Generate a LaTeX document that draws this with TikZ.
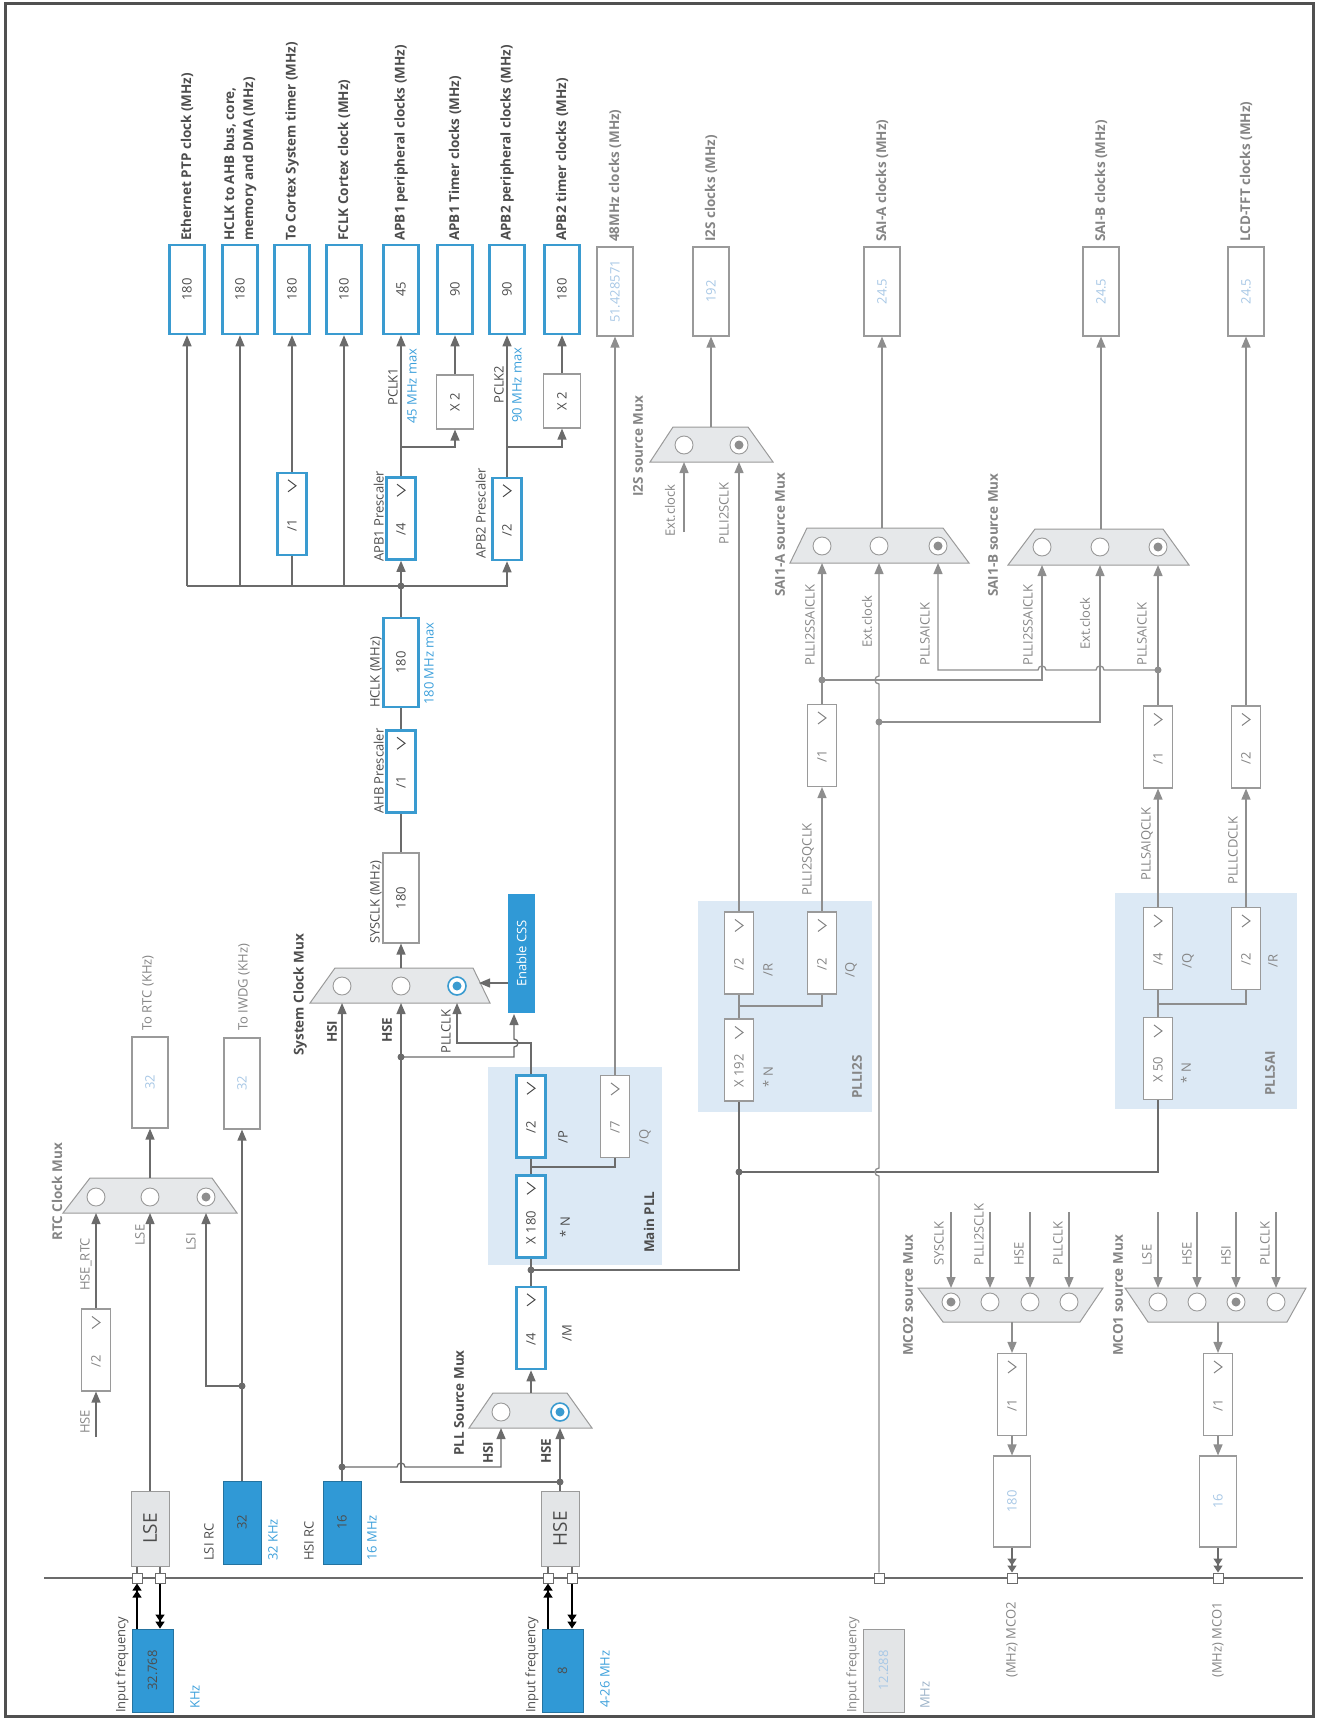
\documentclass[tikz,border=0pt]{standalone}
\usepackage{graphicx}
\usepackage{fontspec}
\setmainfont{Open Sans}
\usetikzlibrary{arrows.meta,calc}
\definecolor{lnc}{HTML}{6B6B6B}
\definecolor{lnl}{HTML}{8E8E8E}
\definecolor{stblue}{HTML}{3A9BD0}
\definecolor{fblue}{HTML}{3099D6}
\definecolor{pllbg}{HTML}{DCE9F5}
\definecolor{muxf}{HTML}{E6E8EA}
\definecolor{boxg}{HTML}{9A9A9A}
\definecolor{txt}{HTML}{4D4D4D}
\definecolor{txtg}{HTML}{858585}
\definecolor{txtlb}{HTML}{A8C8E6}
\definecolor{btxt}{HTML}{3DA0DB}
\definecolor{frm}{HTML}{505050}
\definecolor{crysf}{HTML}{E3E5E7}
\newcommand\myfs{\fontsize{13}{15}\selectfont}
\newcommand\myfsb{\fontsize{13.5}{16}\selectfont\bfseries}
\newcommand\dvd[6]{%
 \node[div#1] (#2) at (#3,#4) {};
 \node[font=\myfs, text=#6, rotate=90, inner sep=0pt] at ($(#2.center)+(0,11)$) {#5};
 \draw[#6, line width=1pt] ($(#2.north)+(-4,8)$) -- ($(#2.north)+(4,14)$) -- ($(#2.north)+(-4,20)$);
}
\begin{document}
\begin{tikzpicture}[x=1pt,y=-1pt,
 lbl/.style={font=\myfs, text=txt, inner sep=0pt, rotate=90},
 lblg/.style={lbl, text=txtg},
 lblb/.style={lbl, text=btxt},
 hdr/.style={font=\myfsb, text=txt, inner sep=0pt, rotate=90, anchor=west},
 hdrg/.style={hdr, text=txtg},
 outact/.style={draw=stblue, line width=2.5pt, fill=white, inner sep=0pt, minimum width=35pt, minimum height=89pt, font=\myfs, text=txt},
 outin/.style={draw=boxg, line width=1.1pt, fill=white, inner sep=0pt, minimum width=36pt, minimum height=89pt, font=\myfs, text=txtlb},
 divact/.style={draw=stblue, line width=2.5pt, fill=white, minimum width=29pt, minimum height=82pt, inner sep=0pt},
 divin/.style={draw=boxg, line width=1.1pt, fill=white, minimum width=29pt, minimum height=82pt, inner sep=0pt},
 x2box/.style={draw=boxg, line width=1.1pt, fill=white, minimum width=37pt, minimum height=54pt, inner sep=0pt, font=\myfs, text=txt},
 wire/.style={draw=lnc, line width=1.3pt},
 wireL/.style={draw=lnl, line width=1.3pt},
 wirear/.style={wire, -{Triangle[length=11pt,width=9pt]}},
 wirearL/.style={wireL, -{Triangle[length=11pt,width=9pt]}},
 dblar/.style={draw=black, line width=1.3pt, -{Triangle[length=7pt,width=9pt] Triangle[length=7pt,width=9pt]}},
 dblarL/.style={draw=lnc, line width=1.3pt, -{Triangle[length=7pt,width=9pt] Triangle[length=7pt,width=9pt]}},
 muxs/.style={fill=muxf, draw=boxg, line width=1pt},
 mcirc/.style={circle, draw=boxg, line width=0.9pt, fill=white, minimum size=18pt, inner sep=0pt},
 mcircb/.style={mcirc, draw=stblue, line width=1.6pt},
 term/.style={draw=lnc, fill=white, line width=1pt, minimum size=10pt, inner sep=0pt},
 rcbox/.style={fill=fblue, draw=fblue!75!black, line width=0.8pt, inner sep=0pt, minimum width=38pt, minimum height=83pt, font=\myfs, text=txt},
 crys/.style={fill=crysf, draw=boxg, line width=1pt, minimum width=38pt, minimum height=75pt, inner sep=0pt, font=\fontsize{19}{21}\selectfont, text=txt}
]
\useasboundingbox (0,0) rectangle (1319,1720);
\draw[frm, line width=3pt] (5,4) rectangle (1313,1716);

% PLL backgrounds
\fill[pllbg] (488,1067) rectangle (662,1265);
\fill[pllbg] (698,901) rectangle (872,1112);
\fill[pllbg] (1115,893) rectangle (1297,1109);

% ---------- top output boxes
\node[outact] (eth) at (187,289.5) {\rotatebox{90}{180}};
\node[outact] (hclkout) at (240,289.5) {\rotatebox{90}{180}};
\node[outact] (cortex) at (292,289.5) {\rotatebox{90}{180}};
\node[outact] (fclk) at (344,289.5) {\rotatebox{90}{180}};
\node[outact] (apbop) at (401,289.5) {\rotatebox{90}{45}};
\node[outact] (apbot) at (455,289.5) {\rotatebox{90}{90}};
\node[outact] (apbtp) at (507,289.5) {\rotatebox{90}{90}};
\node[outact] (apbtt) at (562,289.5) {\rotatebox{90}{180}};
\node[outin] (usb) at (615,291.5) {\rotatebox{90}{51.428571}};
\node[outin] (i2sout) at (711,291.5) {\rotatebox{90}{192}};
\node[outin] (saiaout) at (882,291.5) {\rotatebox{90}{24.5}};
\node[outin] (saibout) at (1101,291.5) {\rotatebox{90}{24.5}};
\node[outin] (lcdout) at (1246,291.5) {\rotatebox{90}{24.5}};

\node[hdr] at (187,241) {Ethernet PTP clock (MHz)};
\node[hdr, align=left, font={\fontsize{13.5}{19}\selectfont\bfseries}] at (240,241) {HCLK to AHB bus, core,\\memory and DMA (MHz)};
\node[hdr] at (292,241) {To Cortex System timer (MHz)};
\node[hdr] at (344,241) {FCLK Cortex clock (MHz)};
\node[hdr] at (401,241) {APB1 peripheral clocks (MHz)};
\node[hdr] at (455,241) {APB1 Timer clocks (MHz)};
\node[hdr] at (507,241) {APB2 peripheral clocks (MHz)};
\node[hdr] at (562,241) {APB2 timer clocks (MHz)};
\node[hdrg] at (615,242) {48MHz clocks (MHz)};
\node[hdrg] at (711,242) {I2S clocks (MHz)};
\node[hdrg] at (882,242) {SAI-A clocks (MHz)};
\node[hdrg] at (1101,242) {SAI-B clocks (MHz)};
\node[hdrg] at (1246,242) {LCD-TFT clocks (MHz)};

% ---------- AHB / APB
\dvd{act}{cortexdiv}{292}{514}{/1}{txt}
\dvd{act}{apb1pre}{401}{518.5}{/4}{txt}
\dvd{act}{apb2pre}{507}{519}{/2}{txt}
\dvd{act}{ahbpre}{401}{771.5}{/1}{txt}
\node[x2box] (x2a) at (455,402) {\rotatebox{90}{X 2}};
\node[x2box] (x2b) at (562,401) {\rotatebox{90}{X 2}};
\node[outact] (hclkbox) at (401,662.5) {\rotatebox{90}{180}};
\node[outact, draw=boxg, line width=1.1pt, minimum width=36pt, minimum height=90pt] (sysclk) at (401,898) {\rotatebox{90}{180}};

\coordinate (busL) at (187,586);
\draw[wirear] (eth |- busL) -- (apb2pre |- busL) -- (apb2pre.south);
\draw[wirear] (eth |- busL) -- (eth.south);
\draw[wirear] (hclkout |- busL) -- (hclkout.south);
\draw[wire] (cortex |- busL) -- (cortexdiv.south);
\draw[wirear] (cortexdiv.north) -- (cortex.south);
\draw[wirear] (fclk |- busL) -- (fclk.south);
\draw[wire] (hclkbox.north) -- (hclkbox.north |- busL);
\draw[wirear] (apb1pre |- busL) -- (apb1pre.south);
\fill[lnc] (apb1pre |- busL) circle (3.5pt);
\draw[wirear] (apb1pre.north) -- (apbop.south);
\coordinate (br1) at (401,447);
\draw[wirear] (br1) -| (x2a.south);
\draw[wirear] (x2a.north) -- (apbot.south);
\draw[wirear] (apb2pre.north) -- (apbtp.south);
\coordinate (br2) at (507,447);
\draw[wirear] (br2) -| (x2b.south);
\draw[wirear] (x2b.north) -- (apbtt.south);
\draw[wire] (hclkbox.south) -- (ahbpre.north);
\draw[wire] (ahbpre.south) -- (sysclk.north);

\node[lbl, anchor=south west] at (398,406) {PCLK1};
\node[lblb, anchor=north west] at (407,424) {45 MHz max};
\node[lbl, anchor=south west] at (384,562) {APB1 Prescaler};
\node[lbl, anchor=south west] at (504,404) {PCLK2};
\node[lblb, anchor=north west] at (512,423) {90 MHz max};
\node[lbl, anchor=south west] at (486,559) {APB2 Prescaler};
\node[lbl, anchor=south west] at (382,708) {HCLK (MHz)};
\node[lblb, anchor=north west] at (424,705) {180 MHz max};
\node[lbl, anchor=south west] at (384,814) {AHB Prescaler};
\node[lbl, anchor=south west] at (382,944) {SYSCLK (MHz)};

% ---------- System clock mux
\draw[muxs] (310,1003) -- (335,968) -- (473,968) -- (490,1003) -- cycle;
\coordinate (smB) at (0,1003); \coordinate (smT) at (0,968);
\node[mcirc] (sm1) at (342,986) {};
\node[mcirc] (sm2) at (401,986) {};
\node[mcircb] (sm3) at (457,986) {}; \fill[stblue] (sm3) circle (4.5pt);
\draw[wirear] (sm2 |- smT) -- (sysclk.south);
\node[hdr] at (300,1056) {System Clock Mux};
\node[lbl, font=\myfsb, anchor=west] at (332,1043) {HSI};
\node[lbl, font=\myfsb, anchor=west] at (387,1043) {HSE};
\node[lbl, anchor=west] at (446,1054) {PLLCLK};

\node[fill=fblue, minimum width=27pt, minimum height=119pt, inner sep=0pt, text=white, font=\myfs] (css) at (521.5,953.5) {\rotatebox{90}{Enable CSS}};
\coordinate (cssa) at (479,983);
\draw[wirear] (css.west |- cssa) -- (cssa);

% ---------- Main PLL
\dvd{act}{pllM}{531}{1328}{/4}{txt}
\dvd{act}{pllN}{531}{1216.5}{X 180}{txt}
\dvd{act}{pllP}{531}{1116.5}{/2}{txt}
\dvd{in}{pllQ}{615}{1116.5}{/7}{txtg}
\coordinate (pdot) at (531,1270);
\draw[wire] (pllM.north) -- (pllN.south);
\fill[lnc] (pdot) circle (3.5pt);
\draw[wire] (pllN.north) -- (pllP.south);
\draw[wire] (531,1167) -- (615,1167) -- (pllQ.south);
\draw[wirearL] (pllQ.north) -- (usb.south);
\draw[wirear] (pllP.north) -- (531,1043) -- (457,1043) -- (sm3 |- smB);
\node[lbl] at (565,1227) {* N};
\node[lbl] at (563,1137) {/P};
\node[lblg] at (645,1137) {/Q};
\node[lbl] at (567,1333) {/M};
\node[hdr] at (649,1253) {Main PLL};

% ---------- PLL source mux
\draw[muxs] (469,1428) -- (493,1393) -- (567,1393) -- (592,1428) -- cycle;
\coordinate (pmB) at (0,1428);
\node[mcirc] (pm1) at (501,1412) {};
\node[mcircb] (pm2) at (560,1412) {}; \fill[stblue] (pm2) circle (4.5pt);
\draw[wirear] (531,1393) -- (pllM.south);
\node[hdr] at (459,1456) {PLL Source Mux};
\node[lbl, font=\myfsb, anchor=west] at (488,1464) {HSI};
\node[lbl, font=\myfsb, anchor=west] at (546,1464) {HSE};

% ---------- oscillators
\node[rcbox] (lsirc) at (242,1522.5) {\rotatebox{90}{32}};
\node[rcbox] (hsirc) at (342,1522.5) {\rotatebox{90}{16}};
\node[crys] (lse) at (150,1528.5) {\rotatebox{90}{LSE}};
\node[crys] (hse) at (560,1528.5) {\rotatebox{90}{HSE}};
\node[lbl, anchor=west] at (209,1561) {LSI RC};
\node[lblb, anchor=west] at (273,1561) {32 KHz};
\node[lbl, anchor=west] at (309,1561) {HSI RC};
\node[lblb, anchor=west] at (372,1561) {16 MHz};

\coordinate (hsidot) at (342,1467);
\draw[wirear] (hsirc.north) -- (sm1 |- smB);
\fill[lnc] (hsidot) circle (3.5pt);
\draw[wirear] (hsidot) -- (397,1467) .. controls (397,1461.7) and (405,1461.7) .. (405,1467) -- (501,1467) -- (pm1 |- pmB);
\coordinate (hsedot) at (560,1482);
\draw[wirear] (hse.north) -- (pm2 |- pmB);
\fill[lnc] (hsedot) circle (3.5pt);
\draw[wirear] (hsedot) -- (401,1482) -- (sm2 |- smB);
\coordinate (hsedot2) at (401,1057);
\fill[lnc] (hsedot2) circle (3.5pt);
\draw[wirear] (hsedot2) -- (514,1057) -- (514,1047) .. controls (519.3,1047) and (519.3,1039) .. (514,1039) -- (514,1014);

% ---------- RTC
\draw[muxs] (63,1213) -- (90,1178) -- (212,1178) -- (237,1213) -- cycle;
\coordinate (rmB) at (0,1213); \coordinate (rmT) at (0,1178);
\node[mcirc] (rm1) at (96,1197) {};
\node[mcirc] (rm2) at (150,1197) {};
\node[mcirc] (rm3) at (206,1197) {}; \fill[lnl] (rm3) circle (4.5pt);
\node[outin, minimum height=91pt] (rtcbox) at (150,1082.5) {\rotatebox{90}{32}};
\node[outin, minimum height=91pt] (iwdg) at (242,1083.5) {\rotatebox{90}{32}};
\draw[wirear] (rm2 |- rmT) -- (rtcbox.south);
\dvd{in}{rtcdiv}{96}{1350}{/2}{txtg}
\coordinate (hsertcin) at (96,1437);
\draw[wirear] (hsertcin) -- (rtcdiv.south);
\draw[wirear] (rtcdiv.north) -- (rm1 |- rmB);
\draw[wirear] (lse.north) -- (rm2 |- rmB);
\coordinate (lsidot) at (242,1386);
\draw[wirear] (lsirc.north) -- (iwdg.south);
\fill[lnc] (lsidot) circle (3.5pt);
\draw[wirear] (lsidot) -- (206,1386) -- (rm3 |- rmB);
\node[hdrg] at (57,1241) {RTC Clock Mux};
\node[lblg, anchor=west] at (148,1031) {To RTC (KHz)};
\node[lblg, anchor=west] at (244,1031) {To IWDG (KHz)};
\node[lblg, anchor=west] at (86,1291) {HSE\_RTC};
\node[lblg, anchor=west] at (140,1246) {LSE};
\node[lblg, anchor=west] at (191,1251) {LSI};
\node[lblg, anchor=west] at (85,1434) {HSE};

% ---------- baseline, pins, inputs
\draw[wire] (44,1578) -- (1303,1578);
\node[term] (t1) at (137,1578) {};
\node[term] (t2) at (160,1578) {};
\node[term] (t3) at (548,1578) {};
\node[term] (t4) at (572,1578) {};
\node[term] (t5) at (879,1578) {};
\node[term] (t6) at (1012,1578) {};
\node[term] (t7) at (1218,1578) {};
\draw[wire] (lse.south -| t1) -- (t1.north);
\draw[wire] (lse.south -| t2) -- (t2.north);
\draw[wire] (hse.south -| t3) -- (t3.north);
\draw[wire] (hse.south -| t4) -- (t4.north);
\node[rcbox, minimum width=41pt] (lsein) at (152.5,1670.5) {\rotatebox{90}{32.768}};
\node[rcbox, minimum width=41pt] (hsein) at (562.5,1670.5) {\rotatebox{90}{8}};
\node[crys, minimum width=41pt, minimum height=83pt, font=\myfs, text=txtlb] (extin) at (883.5,1670.5) {\rotatebox{90}{12.288}};
\draw[dblar] (lsein.north -| t1) -- (t1.south);
\draw[dblar] (t2.south) -- (lsein.north -| t2);
\draw[dblar] (hsein.north -| t3) -- (t3.south);
\draw[dblar] (t4.south) -- (hsein.north -| t4);
\node[lbl, anchor=west] at (122,1713) {Input frequency};
\node[lblb, anchor=west] at (195,1709) {KHz};
\node[lbl, anchor=west] at (532,1713) {Input frequency};
\node[lblb, anchor=west] at (605,1708) {4-26 MHz};
\node[lblg, anchor=west] at (853,1713) {Input frequency};
\node[lbl, text=txtlb!70!gray, anchor=west] at (925,1709) {MHz};

% ---------- I2S mux and PLLI2S
\draw[muxs] (650,462) -- (673,427) -- (748,427) -- (773,462) -- cycle;
\coordinate (imB) at (0,462);
\node[mcirc] (im1) at (684,445) {};
\node[mcirc] (im2) at (739,445) {}; \fill[lnl] (im2) circle (4.5pt);
\draw[wirearL] (711,427) -- (i2sout.south);
\coordinate (i2sext) at (684,532);
\draw[wirearL] (i2sext) -- (im1 |- imB);
\node[hdrg] at (638,497) {I2S source Mux};
\node[lblg, anchor=west] at (670,537) {Ext.clock};
\node[lblg, anchor=west] at (724,545) {PLLI2SCLK};

\dvd{in}{i2sN}{739}{1060}{X 192}{txtg}
\dvd{in}{i2sR}{739}{953}{/2}{txtg}
\dvd{in}{i2sQ}{822}{953}{/2}{txtg}
\dvd{in}{i2sQd}{822}{745.5}{/1}{txtg}
\draw[wireL] (i2sN.north) -- (i2sR.south);
\draw[wireL] (739,1006) -| (i2sQ.south);
\draw[wirearL] (i2sR.north) -- (im2 |- imB);
\draw[wirearL] (i2sQ.north) -- (i2sQd.south);
\node[lblg] at (768,970) {/R};
\node[lblg] at (851,970) {/Q};
\node[lblg] at (768,1077) {* N};
\node[hdrg] at (857,1099) {PLLI2S};
\node[lblg, anchor=west] at (808,896) {PLLI2SQCLK};

\coordinate (i2sdot) at (739,1172);
\draw[wire] (pdot) -- (739,1270) -- (i2sN.south);
\fill[lnc] (i2sdot) circle (3.5pt);

% ---------- PLLSAI
\dvd{in}{saiN}{1158}{1058.5}{X 50}{txtg}
\dvd{in}{saiQ}{1158}{948.5}{/4}{txtg}
\dvd{in}{saiR}{1246}{948.5}{/2}{txtg}
\dvd{in}{saiQd}{1158}{747}{/1}{txtg}
\dvd{in}{lcdd}{1246}{747}{/2}{txtg}
\draw[wire] (i2sdot) -- (1158,1172) -- (saiN.south);
\draw[wireL] (saiN.north) -- (saiQ.south);
\draw[wireL] (1158,1004) -| (saiR.south);
\draw[wirearL] (saiQ.north) -- (saiQd.south);
\draw[wirearL] (saiR.north) -- (lcdd.south);
\draw[wirearL] (lcdd.north) -- (lcdout.south);
\node[lblg] at (1188,961) {/Q};
\node[lblg] at (1273,961) {/R};
\node[lblg] at (1186,1073) {* N};
\node[hdrg] at (1270,1096) {PLLSAI};
\node[lblg, anchor=west] at (1147,881) {PLLSAIQCLK};
\node[lblg, anchor=west] at (1233,885) {PLLLCDCLK};

% ---------- SAI muxes
\draw[muxs] (790,563) -- (807,528) -- (943,528) -- (969,563) -- cycle;
\coordinate (saB) at (0,563);
\node[mcirc] (sa1) at (822,546) {};
\node[mcirc] (sa2) at (879,546) {};
\node[mcirc] (sa3) at (938,546) {}; \fill[lnl] (sa3) circle (4.5pt);
\draw[wirearL] (882,528) -- (saiaout.south);
\draw[muxs] (1008,565) -- (1035,529) -- (1163,529) -- (1189,565) -- cycle;
\coordinate (sbB) at (0,565);
\node[mcirc] (sb1) at (1042,547) {};
\node[mcirc] (sb2) at (1100,547) {};
\node[mcirc] (sb3) at (1158,547) {}; \fill[lnl] (sb3) circle (4.5pt);
\draw[wirearL] (1101,529) -- (saibout.south);
\node[hdrg] at (780,597) {SAI1-A source Mux};
\node[hdrg] at (993,597) {SAI1-B source Mux};
\node[lblg, anchor=west] at (810,666) {PLLI2SSAICLK};
\node[lblg, anchor=west] at (867,648) {Ext.clock};
\node[lblg, anchor=west] at (925,666) {PLLSAICLK};
\node[lblg, anchor=west] at (1028,666) {PLLI2SSAICLK};
\node[lblg, anchor=west] at (1085,650) {Ext.clock};
\node[lblg, anchor=west] at (1142,666) {PLLSAICLK};

\coordinate (qdot) at (822,680);
\draw[wireL] (i2sQd.north) -- (qdot);
\draw[wirearL] (qdot) -- (sa1 |- saB);
\draw[wirearL] (qdot) -- (1042,680) -- (sb1 |- sbB);
\fill[lnl] (qdot) circle (3.5pt);
\coordinate (sdot) at (1158,670);
\draw[wireL] (saiQd.north) -- (sdot);
\draw[wirearL] (sdot) -- (sb3 |- sbB);
\draw[wirearL] (sdot) -- (1104,670) .. controls (1104,664.7) and (1096,664.7) .. (1096,670) -- (1046,670) .. controls (1046,664.7) and (1038,664.7) .. (1038,670) -- (938,670) -- (sa3 |- saB);
\fill[lnl] (sdot) circle (3.5pt);
\coordinate (edot) at (879,722);
\draw[wirearL] (t5.north) -- (879,1176) .. controls (873.7,1176) and (873.7,1168) .. (879,1168) -- (879,684) .. controls (873.7,684) and (873.7,676) .. (879,676) -- (sa2 |- saB);
\draw[wirearL] (edot) -- (1100,722) -- (sb2 |- sbB);
\fill[lnl] (edot) circle (3.5pt);

% ---------- MCO2
\draw[muxs] (918,1288) -- (1103,1288) -- (1080,1322) -- (943,1322) -- cycle;
\coordinate (m2T) at (0,1288);
\node[mcirc] (m2a) at (951,1302) {}; \fill[lnl] (m2a) circle (4.5pt);
\node[mcirc] (m2b) at (990,1302) {};
\node[mcirc] (m2c) at (1030,1302) {};
\node[mcirc] (m2d) at (1069,1302) {};
\foreach \n in {m2a,m2b,m2c,m2d} {\coordinate (\n in) at (\n |- 0,1212); \draw[wirearL] (\n in) -- (\n |- m2T);}
\dvd{in}{mco2div}{1012}{1394.5}{/1}{txtg}
\node[outin, minimum width=37pt, minimum height=91pt] (mco2out) at (1012,1501.5) {\rotatebox{90}{180}};
\draw[wirearL] (1012,1322) -- (mco2div.north);
\draw[wirearL] (mco2div.south) -- (mco2out.north);
\draw[dblarL] (mco2out.south) -- (t6.north);
\node[hdrg] at (908,1356) {MCO2 source Mux};
\node[lblg, anchor=west] at (939,1266) {SYSCLK};
\node[lblg, anchor=west] at (979,1266) {PLLI2SCLK};
\node[lblg, anchor=west] at (1019,1266) {HSE};
\node[lblg, anchor=west] at (1058,1266) {PLLCLK};
\node[lblg, anchor=west] at (1012,1678) {(MHz) MCO2};

% ---------- MCO1
\draw[muxs] (1125,1288) -- (1306,1288) -- (1287,1322) -- (1148,1322) -- cycle;
\node[mcirc] (m1a) at (1158,1302) {};
\node[mcirc] (m1b) at (1197,1302) {};
\node[mcirc] (m1c) at (1236,1302) {}; \fill[lnl] (m1c) circle (4.5pt);
\node[mcirc] (m1d) at (1276,1302) {};
\foreach \n in {m1a,m1b,m1c,m1d} {\coordinate (\n in) at (\n |- 0,1212); \draw[wirearL] (\n in) -- (\n |- m2T);}
\dvd{in}{mco1div}{1218}{1394.5}{/1}{txtg}
\node[outin, minimum width=37pt, minimum height=91pt] (mco1out) at (1218,1501.5) {\rotatebox{90}{16}};
\draw[wirearL] (1218,1322) -- (mco1div.north);
\draw[wirearL] (mco1div.south) -- (mco1out.north);
\draw[dblarL] (mco1out.south) -- (t7.north);
\node[hdrg] at (1118,1356) {MCO1 source Mux};
\node[lblg, anchor=west] at (1147,1266) {LSE};
\node[lblg, anchor=west] at (1187,1266) {HSE};
\node[lblg, anchor=west] at (1226,1266) {HSI};
\node[lblg, anchor=west] at (1265,1266) {PLLCLK};
\node[lblg, anchor=west] at (1218,1678) {(MHz) MCO1};
\end{tikzpicture}
\end{document}
